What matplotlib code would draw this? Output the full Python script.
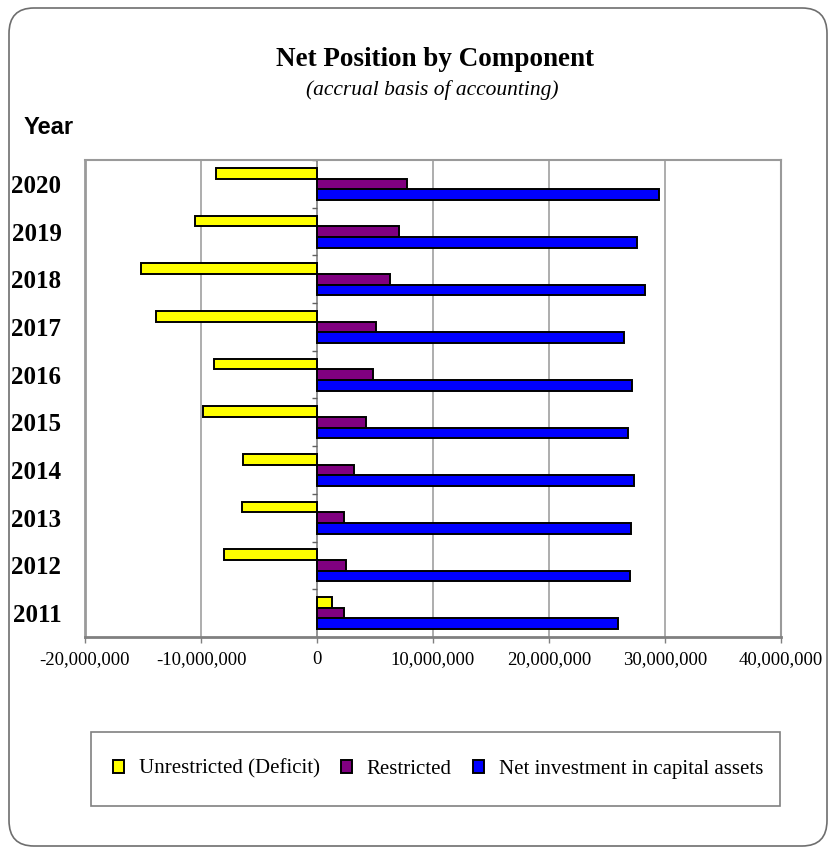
import matplotlib.pyplot as plt
from matplotlib.patches import FancyBboxPatch, Patch, Rectangle
from matplotlib.ticker import FuncFormatter

years = ["2020", "2019", "2018", "2017", "2016", "2015", "2014", "2013", "2012", "2011"]
unrestricted = [-8.7e6, -10.5e6, -15.2e6, -13.85e6, -8.85e6, -9.8e6, -6.4e6, -6.5e6, -8.0e6, 1.3e6]
restricted = [7.8e6, 7.1e6, 6.3e6, 5.1e6, 4.85e6, 4.2e6, 3.2e6, 2.3e6, 2.5e6, 2.3e6]
capital = [29.5e6, 27.55e6, 28.25e6, 26.5e6, 27.15e6, 26.85e6, 27.35e6, 27.1e6, 26.95e6, 25.95e6]
series_names = ["Unrestricted (Deficit)", "Restricted", "Net investment in capital assets"]
series_colors = ["#FFFF00", "#800080", "#0000FF"]
x_ticks = [-20e6, -10e6, 0, 10e6, 20e6, 30e6, 40e6]

W, H = 830, 848
fig = plt.figure(figsize=(W / 100, H / 100), dpi=100)
fig.patch.set_facecolor("white")

# rounded outer frame
frame = FancyBboxPatch((9 / W, 1 - 846 / H), 818 / W, 838 / H,
                       boxstyle="round,pad=0,rounding_size=0.03",
                       transform=fig.transFigure, facecolor="none",
                       edgecolor="#6e6e6e", linewidth=1.2)
fig.patches.append(frame)

ax = fig.add_axes([85 / W, 1 - 637 / H, 696 / W, 477 / H])

pos = list(range(len(years)))
bw = 0.224
for k, (vals, col) in enumerate(zip([unrestricted, restricted, capital], series_colors)):
    ax.barh([p + (k - 1) * bw for p in pos], vals, height=bw, color=col,
            edgecolor="black", linewidth=1.4, zorder=3)

ax.set_xlim(x_ticks[0], x_ticks[-1])
ax.set_ylim(len(years) - 0.5, -0.5)

# vertical gridlines
for xv in x_ticks[1:-1]:
    if xv != 0:
        ax.axvline(xv, color="#a0a0a0", linewidth=1.2, zorder=1)

# category axis drawn at zero with small ticks between groups
ax.axvline(0, color="#808080", linewidth=1.2, zorder=2)
bounds = [p + 0.5 for p in pos[:-1]] + [-0.5]
ax.hlines(bounds, -0.45e6, 0, color="#606060", linewidth=1.0, zorder=2)

ax.set_xticks(x_ticks)
ax.xaxis.set_major_formatter(FuncFormatter(lambda v, _: f"{v:,.0f}"))
ax.tick_params(axis="x", direction="out", length=4, width=1, color="#808080",
               pad=6, labelsize=13.5)
for lab in ax.get_xticklabels():
    lab.set_fontfamily("Liberation Serif")

ax.set_yticks(pos)
ax.set_yticklabels(years, fontfamily="Liberation Serif", fontweight="bold", fontsize=18)
ax.tick_params(axis="y", length=0, pad=17)

for side in ["left", "top", "right"]:
    ax.spines[side].set_color("#9a9a9a")
    ax.spines[side].set_linewidth(1.5)
ax.spines["left"].set_linewidth(2)
ax.spines["bottom"].set_color("#808080")
ax.spines["bottom"].set_linewidth(2)

fig.text(435 / W, 1 - 66 / H, "Net Position by Component", ha="center", va="baseline",
         fontfamily="Liberation Serif", fontweight="bold", fontsize=19.5)
fig.text(432 / W, 1 - 95 / H, "(accrual basis of accounting)", ha="center", va="baseline",
         fontfamily="Liberation Serif", style="italic", fontsize=15.5)
fig.text(24 / W, 1 - 134 / H, "Year", ha="left", va="baseline",
         fontfamily="Liberation Sans", fontweight="bold", fontsize=17)

# legend box
fig.patches.append(Rectangle((91 / W, 1 - 806 / H), 689 / W, 74 / H,
                             transform=fig.transFigure, facecolor="none",
                             edgecolor="#808080", linewidth=1.2))
handles = [Patch(facecolor=c, edgecolor="black", linewidth=1.4) for c in series_colors]
fig.legend(handles, series_names, ncol=3, loc="center",
           bbox_to_anchor=(438 / W, 1 - 769 / H), frameon=False,
           prop={"family": "Liberation Serif", "size": 15},
           handlelength=0.55, handleheight=0.55, handletextpad=0.7,
           columnspacing=1.0)

fig.savefig("out.png", dpi=100)
